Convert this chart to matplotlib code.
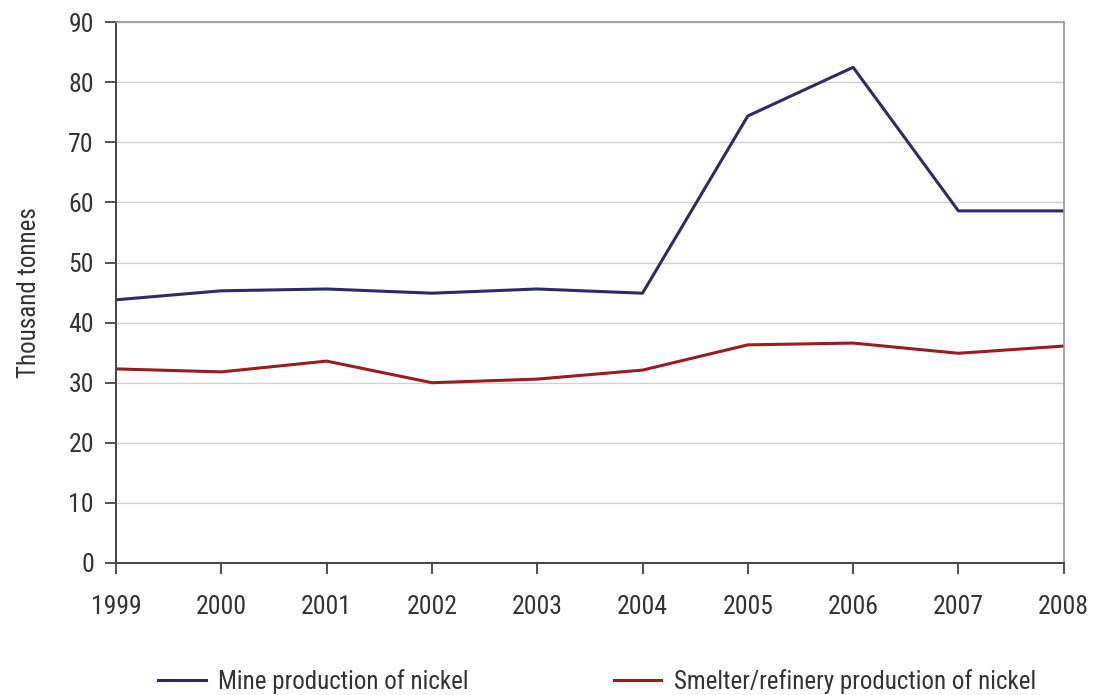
import matplotlib
matplotlib.use("Agg")
import matplotlib.pyplot as plt
from matplotlib import font_manager

years = [1999, 2000, 2001, 2002, 2003, 2004, 2005, 2006, 2007, 2008]
mine = [43.8, 45.3, 45.6, 44.9, 45.6, 44.9, 74.4, 82.5, 58.6, 58.6]
smelter = [32.3, 31.8, 33.6, 30.0, 30.6, 32.1, 36.3, 36.6, 34.9, 36.1]
yticks = list(range(0, 91, 10))

names = {f.name for f in font_manager.fontManager.ttflist}
cands = ["Roboto Condensed", "DejaVu Sans Condensed", "Liberation Sans Narrow", "Roboto"]
fam = [c for c in cands if c in names] + ["DejaVu Sans"]
plt.rcParams["font.family"] = fam
plt.rcParams["font.stretch"] = "condensed"

fig = plt.figure(figsize=(11, 6.95), dpi=100)
ax = fig.add_axes([0.1055, 0.19, 0.8615, 0.778])

ax.plot(years, mine, color="#2e2a6b", linewidth=2.2, label="Mine production of nickel")
ax.plot(years, smelter, color="#9b1b20", linewidth=2.2,
        label="Smelter/refinery production of nickel")

ax.set_xlim(years[0], years[-1])
ax.set_ylim(0, 90)
ax.set_xticks(years)
ax.set_yticks(yticks)
ax.tick_params(axis="both", labelsize=18.5, colors="#333333", direction="out", length=8, width=1.2)
ax.tick_params(axis="x", pad=15)
ax.tick_params(axis="y", pad=8)
ax.grid(axis="y", color="#d0d0d0", linewidth=1)
ax.set_axisbelow(True)

for side in ["top", "right"]:
    ax.spines[side].set_color("#999999")
    ax.spines[side].set_linewidth(1.2)
for side in ["left", "bottom"]:
    ax.spines[side].set_color("#444444")
    ax.spines[side].set_linewidth(1.4)

ax.set_ylabel("Thousand tonnes", fontsize=18, color="#333333", labelpad=20)

leg = fig.legend(loc="center", bbox_to_anchor=(0.543, 0.02), ncol=2, frameon=False,
                 fontsize=18, handlelength=1.9, columnspacing=5.8, handletextpad=0.5)
for t in leg.get_texts():
    t.set_color("#333333")

fig.savefig("out.png", dpi=100)
